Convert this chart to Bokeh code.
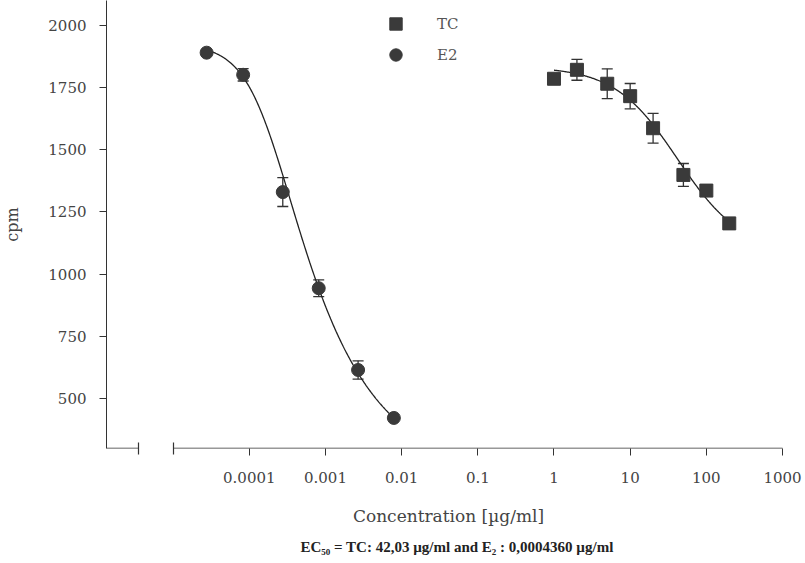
import numpy as np
from bokeh.plotting import figure
from bokeh.models import (FixedTicker, Whisker, TeeHead, Arrow, Legend, LegendItem,
                          Title, ColumnDataSource, Range1d)
from bokeh.embed import file_html
from bokeh.resources import INLINE

# ---- data ----
e2_conc = [2.75e-5, 8.3e-5, 2.75e-4, 8.15e-4, 2.68e-3, 7.9e-3]
e2_cpm = [1891, 1802, 1330, 943, 614, 421]
e2_err = [0, 25, 58, 34, 37, 0]

tc_conc = [1, 2, 5, 10, 20, 50, 100, 200]
tc_cpm = [1786, 1822, 1766, 1716, 1587, 1399, 1336, 1204]
tc_err = [0, 42, 60, 51, 60, 46, 0, 0]

x_ticks = [1e-4, 1e-3, 1e-2, 1e-1, 1, 10, 100, 1000]
x_tick_labels = ["0.0001", "0.001", "0.01", "0.1", "1", "10", "100", "1000"]
y_ticks = [500, 750, 1000, 1250, 1500, 1750, 2000]

# axis break: short stub next to the y axis, then the main axis from 1e-5
x_left = 10 ** -5.875
x_break_end = 10 ** -5.451
x_axis_start = 1e-5
x_axis_end = 1000
y_bottom = 298

# fitted dose-response model parameters (logistic fit lines)
e2_top, e2_bottom, e2_hill, e2_logc, e2_asym = 1925, 175, 1.7, -3.7735, 0.3
tc_top, tc_bottom, tc_hill, tc_logc, tc_asym = 1835, 1090, 1.05, np.log10(42.03), 1.0

FONT = "DejaVu Serif"
INK = "#333333"


def logistic(conc, top, bottom, hill, logc, asym):
    lx = np.log10(conc)
    return bottom + (top - bottom) / (1 + 10 ** (hill * (lx - logc))) ** asym


p = figure(width=805, height=563, x_axis_type="log",
           x_range=Range1d(x_left, 10 ** 3.105), y_range=Range1d(y_bottom, 2101),
           output_backend="svg", toolbar_location=None,
           min_border_left=106, min_border_right=15, min_border_top=0,
           min_border_bottom=115)
p.outline_line_color = None
p.xgrid.visible = False
p.ygrid.visible = False
p.background_fill_color = "white"

# fit curves
e2_x = np.logspace(np.log10(min(e2_conc)), np.log10(max(e2_conc)), 300)
tc_x = np.logspace(np.log10(min(tc_conc)), np.log10(max(tc_conc)), 300)
p.line(e2_x, logistic(e2_x, e2_top, e2_bottom, e2_hill, e2_logc, e2_asym),
       line_color="#222222", line_width=1.3)
p.line(tc_x, logistic(tc_x, tc_top, tc_bottom, tc_hill, tc_logc, tc_asym),
       line_color="#222222", line_width=1.3)

# error bars
for conc, cpm, err in ((e2_conc, e2_cpm, e2_err), (tc_conc, tc_cpm, tc_err)):
    xs = [c for c, e in zip(conc, err) if e > 0]
    up = [v + e for v, e in zip(cpm, err) if e > 0]
    lo = [v - e for v, e in zip(cpm, err) if e > 0]
    src = ColumnDataSource(dict(x=xs, upper=up, lower=lo))
    p.add_layout(Whisker(source=src, base="x", upper="upper", lower="lower",
                         dimension="height", line_color=INK, line_width=1.3,
                         upper_head=TeeHead(size=11, line_color=INK, line_width=1.3),
                         lower_head=TeeHead(size=11, line_color=INK, line_width=1.3)))

tc_r = p.scatter(tc_conc, tc_cpm, marker="square", size=13, fill_color="#3a3a3a",
                 line_color="#3a3a3a")
e2_r = p.scatter(e2_conc, e2_cpm, marker="circle", size=13, fill_color="#3a3a3a",
                 line_color="#3a3a3a")

legend = Legend(items=[LegendItem(label="TC", renderers=[tc_r]),
                       LegendItem(label="E2", renderers=[e2_r])],
                location=(274, 378), orientation="vertical",
                glyph_width=31, glyph_height=31, spacing=0, padding=0, margin=0,
                label_standoff=26, border_line_color=None,
                background_fill_alpha=0, label_text_font=FONT,
                label_text_font_size="15px", label_text_color="#555555")
p.add_layout(legend)

# axes
p.yaxis.ticker = FixedTicker(ticks=y_ticks, minor_ticks=[])
p.yaxis.major_tick_out = 7
p.yaxis.major_tick_in = 0
p.yaxis.axis_line_color = INK
p.yaxis.major_tick_line_color = INK
p.yaxis.major_label_standoff = 13
p.yaxis.major_label_text_font = FONT
p.yaxis.major_label_text_font_size = "15px"
p.yaxis.major_label_text_color = "#444444"
p.yaxis.axis_label = "cpm"
p.yaxis.axis_label_text_font = FONT
p.yaxis.axis_label_text_font_size = "16px"
p.yaxis.axis_label_text_font_style = "normal"
p.yaxis.axis_label_text_color = "#444444"
p.yaxis.axis_label_standoff = 23

# x axis: ticks from the axis; the break caps are minor ticks crossing the line
p.xaxis.ticker = FixedTicker(ticks=x_ticks, minor_ticks=[x_break_end, x_axis_start])
p.xaxis.major_label_overrides = {t: lab for t, lab in zip(x_ticks, x_tick_labels)}
p.xaxis.bounds = (x_left, x_axis_end)
p.xaxis.axis_line_color = None
p.xaxis.major_tick_out = 7
p.xaxis.major_tick_in = 0
p.xaxis.minor_tick_out = 6
p.xaxis.minor_tick_in = 6
p.xaxis.major_tick_line_color = INK
p.xaxis.minor_tick_line_color = INK
p.xaxis.minor_tick_line_width = 1.2
p.xaxis.major_label_standoff = 16
p.xaxis.major_label_text_font = FONT
p.xaxis.major_label_text_font_size = "15px"
p.xaxis.major_label_text_color = "#444444"
p.xaxis.axis_label = "Concentration [µg/ml]"
p.xaxis.axis_label_text_font = FONT
p.xaxis.axis_label_text_font_size = "17px"
p.xaxis.axis_label_text_font_style = "normal"
p.xaxis.axis_label_text_color = "#444444"
p.xaxis.axis_label_standoff = 20

# the two pieces of the broken x axis line
p.add_layout(Arrow(x_start=x_left, y_start=y_bottom, x_end=x_break_end, y_end=y_bottom,
                   start=None, end=None, line_color=INK, line_width=1.5))
p.add_layout(Arrow(x_start=x_axis_start, y_start=y_bottom, x_end=x_axis_end, y_end=y_bottom,
                   start=None, end=None, line_color=INK, line_width=1.5))

p.add_layout(Title(text="EC₅₀ = TC: 42,03 µg/ml and E₂ : 0,0004360 µg/ml",
                   align="left", offset=194, text_font="Liberation Serif",
                   text_font_size="15px", text_font_style="bold",
                   text_color="#222222", standoff=16), "below")

open("out.html", "w").write(file_html(p, INLINE))
